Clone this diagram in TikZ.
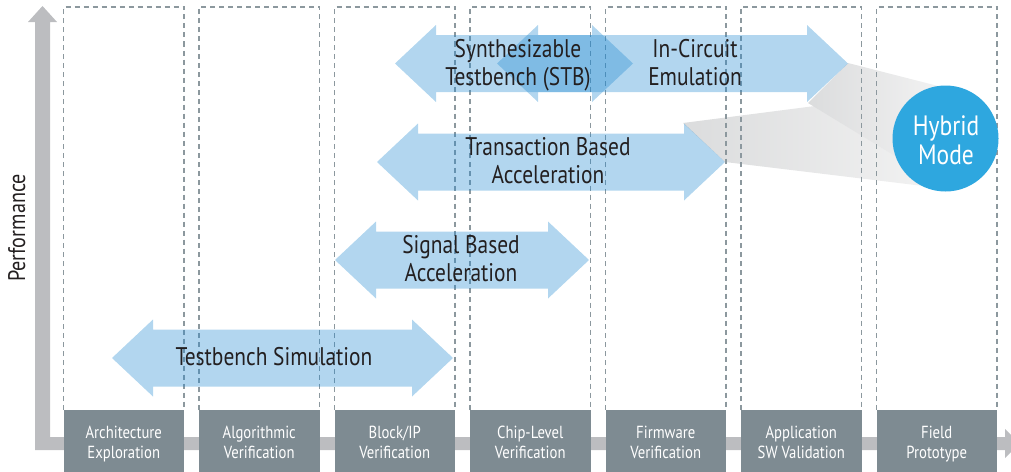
\documentclass[tikz,border=0pt]{standalone}
\usepackage{fontspec}
\setmainfont{PT Sans}[FakeStretch=0.84]
\definecolor{axisgray}{HTML}{BCBDC0}
\definecolor{dashgray}{HTML}{8C989E}
\definecolor{boxgray}{HTML}{7E8B92}
\definecolor{bandblue}{RGB}{29,135,208}
\definecolor{labelblack}{HTML}{231F20}
\definecolor{hybridblue}{HTML}{2EA7DF}
\definecolor{conegray}{HTML}{DBDCDD}
\definecolor{conelight}{HTML}{F3F3F3}

% double-headed band: left tip x, right tip x, centre y
\newcommand\bandarrow[3]{%
  \fill[band] (#1,#3) -- ({#1+41},{#3-38.5}) -- ({#1+41},{#3-28.5})
    -- ({#2-41},{#3-28.5}) -- ({#2-41},{#3-38.5}) -- (#2,#3)
    -- ({#2-41},{#3+38.5}) -- ({#2-41},{#3+28.5}) -- ({#1+41},{#3+28.5})
    -- ({#1+41},{#3+38.5}) -- cycle;}

\begin{document}
\begin{tikzpicture}[x=1pt,y=-1pt,
  colframe/.style={draw=dashgray, line width=1.1pt, dash pattern=on 5pt off 4pt},
  phasebox/.style={fill=boxgray, draw=none, minimum width=120.5pt, minimum height=62pt,
    inner sep=0pt, anchor=north west},
  band/.style={fill=bandblue, fill opacity=0.34},
  bandlabel/.style={text=labelblack, font=\fontsize{25.5}{28}\selectfont, align=center, inner sep=0pt},
  phaselabel/.style={text=white, font=\fontsize{17.5}{20}\selectfont, align=center, inner sep=0pt},
  cone/.style={left color=conegray, right color=conelight},
]
\useasboundingbox (0,0) rectangle (1011,471);
\clip (0,0) rectangle (1011,471);

% performance / phase axes
\fill[axisgray] (35,450) -- (35,22) -- (28,22) -- (42.5,6) -- (57,22) -- (50,22)
  -- (50,437) -- (1005,437) -- (1005,429) -- (1020,443.5) -- (1005,458)
  -- (1005,450) -- cycle;
\node[rotate=90, anchor=base, inner sep=0pt, text=labelblack,
  font=\fontsize{24}{28}\selectfont] (perf) at (25,228) {Performance};

% cones feeding the hybrid mode bubble
\shade[cone] (683,123) -- (947,89) -- (940,188) -- (725,162) -- cycle;
\shade[cone] (848,63) -- (946,88) -- (905,162) -- (808,103) -- cycle;

% phase columns and their boxes
\foreach \i/\txt in {1/{Architecture\strut\\Exploration\strut},
                     2/{Algorithmic\strut\\Verification\strut},
                     3/{Block/IP\strut\\Verification\strut},
                     4/{Chip-Level\strut\\Verification\strut},
                     5/{Firmware\strut\\Verification\strut},
                     6/{Application\strut\\SW Validation\strut},
                     7/{Field\strut\\Prototype\strut}} {
  \pgfmathsetmacro\xl{63.5+135.5*(\i-1)}
  \draw[colframe] (\xl,410) -- (\xl,7) -- ({\xl+120.5},7) -- ({\xl+120.5},410);
  \node[phasebox] (phase\i) at (\xl,410) {};
  \node[phaselabel] (phaselabel\i) at ({\xl+60.25},444) {\txt};
}

% verification technologies
\bandarrow{112}{453}{358}
\bandarrow{335}{589}{260}
\bandarrow{377}{725}{162}
\bandarrow{395}{633}{63.5}
\bandarrow{497}{848}{63.5}

\node[bandlabel, anchor=base] (tbsim) at (274,365) {Testbench Simulation};
\node[bandlabel] (sba) at (461,261.4) {Signal Based\strut\\Acceleration\strut};
\node[bandlabel] (tba) at (548,163.4) {Transaction Based\strut\\Acceleration\strut};
\node[bandlabel] (stb) at (518,65.4) {Synthesizable\strut\\Testbench (STB)\strut};
\node[bandlabel] (ice) at (695,65.4) {In-Circuit\strut\\Emulation\strut};

% hybrid mode bubble
\node[circle, fill=hybridblue, minimum size=106pt, inner sep=0pt] (hybrid) at (945.5,138.5) {};
\node[text=white, font=\fontsize{28}{27}\selectfont, align=center, inner sep=0pt]
  (hybridtext) at (946,144) {Hybrid\strut\\Mode\strut};
\end{tikzpicture}
\end{document}
